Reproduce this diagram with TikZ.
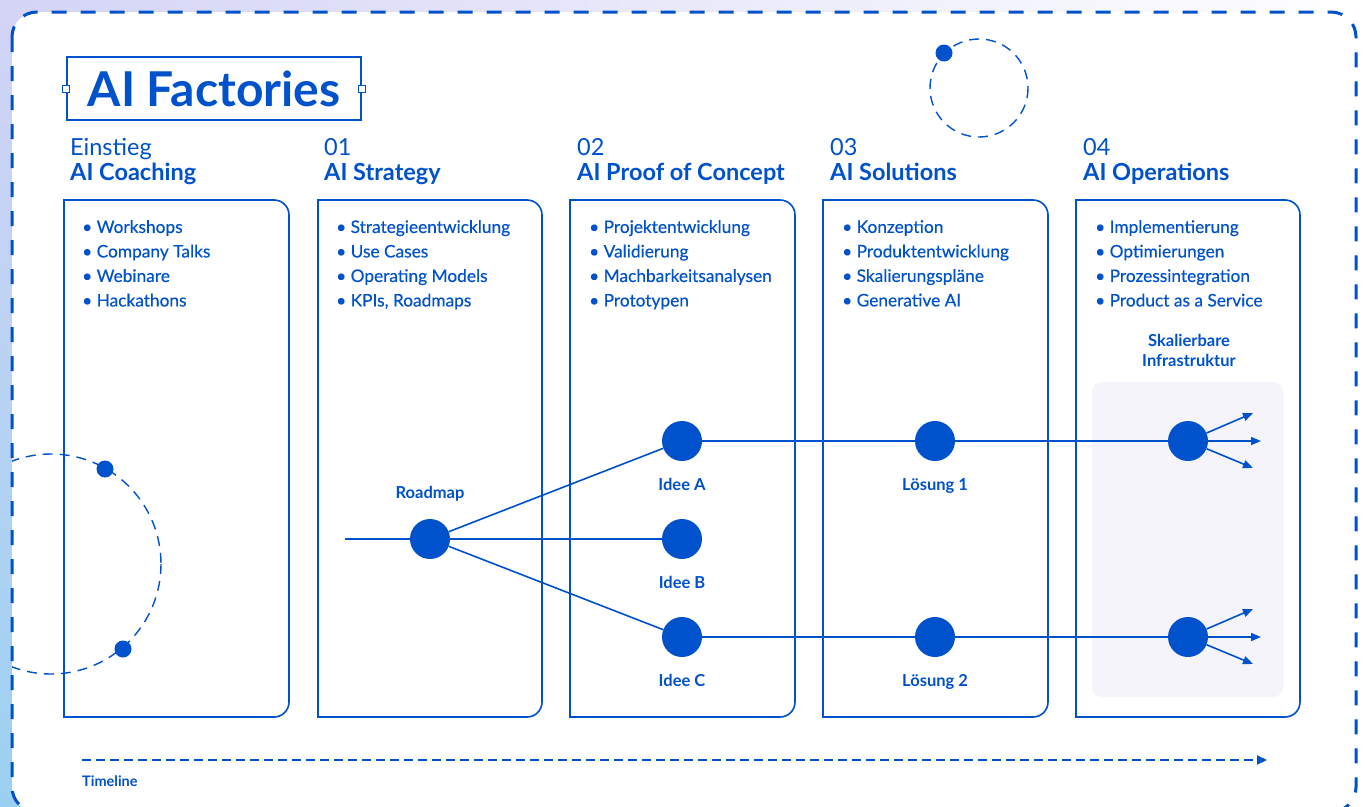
\documentclass[tikz,border=0pt]{standalone}
\usepackage{fontspec}
\setmainfont{Lato}
\newfontfamily\mediumfont{Lato}[FakeBold=0.35]
\usepackage{tikz}
\usetikzlibrary{positioning,arrows.meta,shadings}
\definecolor{aiblue}{RGB}{0,82,204}
\definecolor{panelgray}{RGB}{244,244,250}
\definecolor{bgblue}{RGB}{155,208,242}
\definecolor{bglilac}{RGB}{212,212,246}
\tikzstyle{frame} = [draw=aiblue, line width=3, dash pattern=on 15pt off 14pt, rounded corners=25]
\tikzstyle{colbox} = [draw=aiblue, line width=1.6]
\tikzstyle{phase} = [anchor=north west, align=left, inner sep=0, text=aiblue, font=\fontsize{23.5}{25}\selectfont]
\tikzstyle{itemlist} = [anchor=north west, align=left, inner sep=0, text=aiblue, font=\mediumfont\fontsize{17.3}{24.5}\selectfont]
\tikzstyle{dot} = [circle, fill=aiblue, minimum size=40, inner sep=0]
\tikzstyle{orbitdot} = [circle, fill=aiblue, minimum size=17, inner sep=0]
\tikzstyle{orbit} = [draw=aiblue, line width=1.4, dash pattern=on 10pt off 7pt]
\tikzstyle{dotlabel} = [inner sep=0, text=aiblue, font=\fontsize{16.5}{20}\selectfont\bfseries]
\tikzstyle{flow} = [draw=aiblue, line width=1.6]
\tikzstyle{fanout} = [flow, -{Triangle[length=10pt,width=8pt]}]

\begin{document}
\begin{tikzpicture}[x=1pt, y=-1pt]
\useasboundingbox (0,0) rectangle (1365,806);
\clip (0,0) rectangle (1365,806);
\shade[upper left=bglilac, lower left=bgblue, upper right=white, lower right=white] (0,0) rectangle (1365,806);
\fill[white, rounded corners=25] (12,12) rectangle (1356,812);

% orbits
\begin{scope}
\clip[rounded corners=25] (12,12) rectangle (1356,812);
\draw[orbit] (51,564) circle (110);
\end{scope}
\node[orbitdot] (orbA) at (105,469) {};
\node[orbitdot] (orbB) at (123,649) {};
\draw[orbit] (979,88) circle (49);
\node[orbitdot] (orbC) at (944,53) {};

% title
\node[draw=aiblue, line width=1.6, minimum width=294, minimum height=63, text=aiblue,
  font=\fontsize{48}{52}\selectfont\bfseries] (title) at (214,88.5) {AI Factories};
\node[draw=aiblue, fill=white, line width=1, minimum size=7, inner sep=0] at (title.west) {};
\node[draw=aiblue, fill=white, line width=1, minimum size=7, inner sep=0] at (title.east) {};

% phases
\node[phase] (coach) at (70,138) {Einstieg\\\textbf{AI Coaching}};
\node[phase] (strategy) at (324,138) {01\\\textbf{AI Strategy}};
\node[phase] (poc) at (577,138) {02\\\textbf{AI Proof of Concept}};
\node[phase] (solutions) at (830,138) {03\\\textbf{AI Solutions}};
\node[phase] (operations) at (1083,138) {04\\\textbf{AI Operations}};

\draw[colbox] (150,717) -- (64,717) -- (64,200) [rounded corners=15] -- (289,200) -- (289,717) -- cycle;
\draw[colbox] (400,717) -- (318,717) -- (318,200) [rounded corners=15] -- (542,200) -- (542,717) -- cycle;
\draw[colbox] (650,717) -- (570,717) -- (570,200) [rounded corners=15] -- (795,200) -- (795,717) -- cycle;
\draw[colbox] (900,717) -- (823,717) -- (823,200) [rounded corners=15] -- (1048,200) -- (1048,717) -- cycle;
\draw[colbox] (1150,717) -- (1076,717) -- (1076,200) [rounded corners=15] -- (1300,200) -- (1300,717) -- cycle;

\node[itemlist] (coachlist) at (82,220) {\textbullet\ Workshops\\\textbullet\ Company Talks\\\textbullet\ Webinare\\\textbullet\ Hackathons};
\node[itemlist] (strategylist) at (336,220) {\textbullet\ Strategieentwicklung\\\textbullet\ Use Cases\\\textbullet\ Operating Models\\\textbullet\ KPIs, Roadmaps};
\node[itemlist] (poclist) at (589,220) {\textbullet\ Projektentwicklung\\\textbullet\ Validierung\\\textbullet\ Machbarkeitsanalysen\\\textbullet\ Prototypen};
\node[itemlist] (solutionslist) at (842,220) {\textbullet\ Konzeption\\\textbullet\ Produktentwicklung\\\textbullet\ Skalierungspläne\\\textbullet\ Generative AI};
\node[itemlist] (operationslist) at (1095,220) {\textbullet\ Implementierung\\\textbullet\ Optimierungen\\\textbullet\ Prozessintegration\\\textbullet\ Product as a Service};

\node[dotlabel, align=center] (infra) at (1189,350) {Skalierbare\\Infrastruktur};
\fill[panelgray, rounded corners=10] (1092,382) rectangle (1283,697);

% flow
\coordinate (start) at (345,539);
\node[dot] (roadmap) at (430,539) {};
\node[dot] (ideeA) at (682,441) {};
\node[dot] (ideeB) at (682,539) {};
\node[dot] (ideeC) at (682,637) {};
\node[dot] (loesung1) at (935,441) {};
\node[dot] (loesung2) at (935,637) {};
\node[dot] (service1) at (1188,441) {};
\node[dot] (service2) at (1188,637) {};

\node[dotlabel, above=17pt of roadmap] {Roadmap};
\node[dotlabel, below=17pt of ideeA] {Idee A};
\node[dotlabel, below=17pt of ideeB] {Idee B};
\node[dotlabel, below=17pt of ideeC] {Idee C};
\node[dotlabel, below=17pt of loesung1] {Lösung 1};
\node[dotlabel, below=17pt of loesung2] {Lösung 2};

\draw[flow] (start) -- (roadmap);
\draw[flow] (roadmap) -- (ideeA);
\draw[flow] (roadmap) -- (ideeB);
\draw[flow] (roadmap) -- (ideeC);
\draw[flow] (ideeA) -- (loesung1);
\draw[flow] (loesung1) -- (service1);
\draw[flow] (ideeC) -- (loesung2);
\draw[flow] (loesung2) -- (service2);

\coordinate (up1) at (1253,413);
\coordinate (mid1) at (1261,441);
\coordinate (low1) at (1253,468);
\coordinate (up2) at (1253,609);
\coordinate (mid2) at (1261,637);
\coordinate (low2) at (1253,664);
\draw[fanout] (service1) -- (up1);
\draw[fanout] (service1) -- (mid1);
\draw[fanout] (service1) -- (low1);
\draw[fanout] (service2) -- (up2);
\draw[fanout] (service2) -- (mid2);
\draw[fanout] (service2) -- (low2);

% timeline
\coordinate (tstart) at (82,760);
\coordinate (tend) at (1267,760);
\draw[flow, line width=2, dash pattern=on 9pt off 5pt, -{Triangle[length=10pt,width=9pt]}] (tstart) -- (tend);
\node[dotlabel, anchor=west, font=\fontsize{14.5}{16}\selectfont\bfseries] (timeline) at (82,781) {Timeline};

\draw[frame] (12,12) rectangle (1356,812);
\end{tikzpicture}
\end{document}
